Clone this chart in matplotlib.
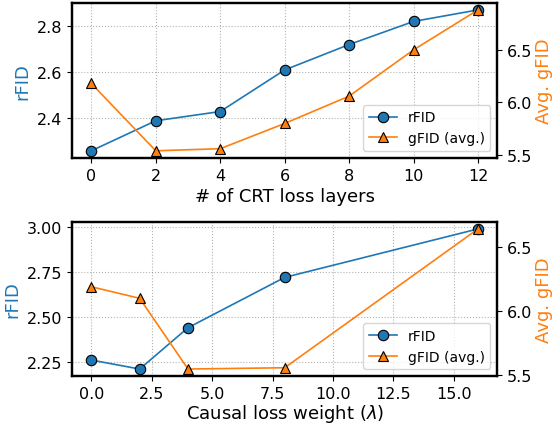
# rFID / gFID ablation: CRT loss layers and causal loss weight

import matplotlib
matplotlib.use("Agg")
import matplotlib.pyplot as plt

# top panel data
crt_layers = [0, 2, 4, 6, 8, 10, 12]
crt_rfid = [2.26, 2.39, 2.43, 2.61, 2.72, 2.82, 2.87]
crt_gfid = [6.18, 5.54, 5.56, 5.80, 6.06, 6.50, 6.88]

# bottom panel data
causal_weight = [0, 2, 4, 8, 16]
causal_rfid = [2.26, 2.21, 2.44, 2.72, 2.99]
causal_gfid = [6.19, 6.10, 5.55, 5.56, 6.64]

c_r = "#1f77b4"
c_g = "#ff7f0e"

fig = plt.figure(figsize=(5.56, 4.27), dpi=100)
ax1 = fig.add_axes([0.1295, 0.628, 0.765, 0.363])
ax2 = fig.add_axes([0.1295, 0.117, 0.765, 0.361])


def draw(ax, x, rfid, gfid, xlabel, rticks, gticks, xpad):
    ax.plot(x, rfid, "-o", color=c_r, markersize=7.5, markeredgecolor="black",
            markeredgewidth=0.8, linewidth=1.2, label="rFID")
    ax.set_ylabel("rFID", color=c_r, fontsize=13)
    ax.set_xlabel(xlabel, fontsize=13, labelpad=xpad)
    ax.set_yticks(rticks)
    ax.tick_params(labelsize=11.5)
    ax.grid(True, linestyle=":", color="gray", alpha=0.6, linewidth=0.8)
    for s in ax.spines.values():
        s.set_linewidth(1.6)

    axr = ax.twinx()
    axr.plot(x, gfid, "-^", color=c_g, markersize=7.5, markeredgecolor="black",
             markeredgewidth=0.8, linewidth=1.2, label="gFID (avg.)")
    axr.set_ylabel("Avg. gFID", color=c_g, fontsize=13, labelpad=2)
    axr.set_yticks(gticks)
    axr.tick_params(labelsize=11.5)
    for s in axr.spines.values():
        s.set_linewidth(1.6)

    h1, l1 = ax.get_legend_handles_labels()
    h2, l2 = axr.get_legend_handles_labels()
    axr.legend(h1 + h2, l1 + l2, loc="lower right", fontsize=10)
    return axr


draw(ax1, crt_layers, crt_rfid, crt_gfid, "# of CRT loss layers",
     [2.4, 2.6, 2.8], [5.5, 6.0, 6.5], 3)
ax1.set_xticks(crt_layers)

draw(ax2, causal_weight, causal_rfid, causal_gfid, r"Causal loss weight ($\lambda$)",
     [2.25, 2.50, 2.75, 3.00], [5.5, 6.0, 6.5], 1)

fig.savefig("out.png", dpi=100)
